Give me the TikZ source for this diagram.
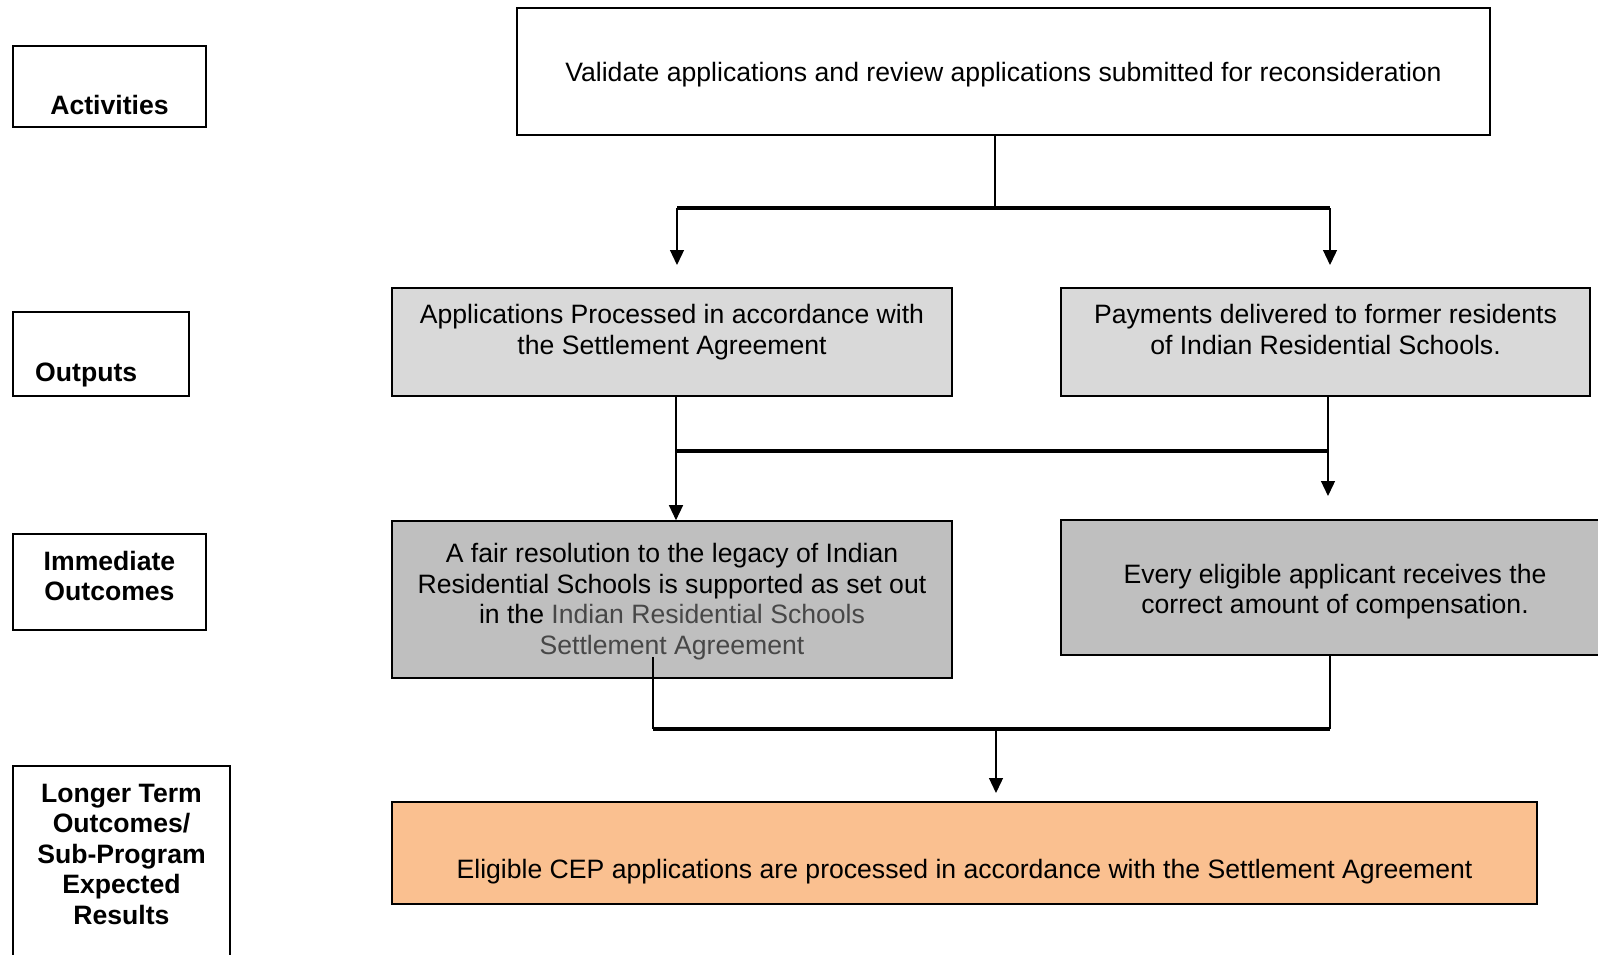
\documentclass[tikz,border=0pt]{standalone}
\usepackage{fontspec}
\setmainfont{Liberation Sans}
\usetikzlibrary{arrows.meta}
\definecolor{outgray}{HTML}{D9D9D9}
\definecolor{immgray}{HTML}{BFBFBF}
\definecolor{orangefill}{HTML}{FAC090}
\definecolor{softtext}{HTML}{474747}
\begin{document}
\begin{tikzpicture}[x=1pt,y=-1pt,
  box/.style={draw=black, line width=1.6pt, inner sep=0pt},
  txt/.style={inner sep=0pt, align=center, anchor=base, font=\fontsize{26.6}{30.6}\selectfont},
  lbl/.style={txt, font=\fontsize{26.6}{30.6}\selectfont\bfseries},
  conn/.style={line width=1.3pt},
  bar/.style={line width=3.2pt},
  arr/.style={line width=1.3pt, -{Triangle[width=14pt,length=15pt]}}]
\clip (0,0) rectangle (1598,955);
\fill[white] (0,0) rectangle (1598,955);
% left labels (anchor=base is the baseline of the last line)
\node[box, minimum width=193pt, minimum height=81pt] (act) at (109.5,86.5) {};
\node[lbl] (actt) at (109.5,114.5) {Activities};
\node[box, minimum width=176pt, minimum height=84pt] (outl) at (101,354) {};
\node[lbl, anchor=base west] (outlt) at (35,381) {Outputs};
\node[box, minimum width=193pt, minimum height=96pt] (imml) at (109.5,582) {};
\node[lbl] (immlt) at (109.5,600.6) {Immediate\\Outcomes};
\node[box, minimum width=217pt, minimum height=209pt] (lng) at (121.5,870.5) {};
\node[lbl] (lngt) at (121.5,924.4) {Longer Term\\Outcomes/\\Sub-Program\\Expected\\Results};
% main boxes
\node[box, fill=white, minimum width=973pt, minimum height=127pt] (top) at (1003.5,71.5) {};
\node[txt] (topt) at (1003.5,81.5) {Validate applications and review applications submitted for reconsideration};
\node[box, fill=outgray, minimum width=560pt, minimum height=108pt] (o1) at (672,342) {};
\node[txt] (o1t) at (672,354.1) {Applications Processed in accordance with\\the Settlement Agreement};
\node[box, fill=outgray, minimum width=529pt, minimum height=108pt] (o2) at (1325.5,342) {};
\node[txt] (o2t) at (1325.5,354.1) {Payments delivered to former residents\\of Indian Residential Schools.};
\node[box, fill=immgray, minimum width=560pt, minimum height=157pt] (i1) at (672,599.5) {};
\node[txt] (i1t) at (672,654.3) {A fair resolution to the legacy of Indian\\Residential Schools is supported as set out\\in the {\color{softtext}Indian Residential Schools}\\{\color{softtext}Settlement Agreement}};
\node[box, fill=immgray, minimum width=548pt, minimum height=135pt] (i2) at (1335,587.5) {};
\node[txt] (i2t) at (1335,613.6) {Every eligible applicant receives the\\correct amount of compensation.};
\node[box, fill=orangefill, minimum width=1145pt, minimum height=102pt] (fin) at (964.5,853) {};
\node[txt] (fint) at (964.5,878) {Eligible CEP applications are processed in accordance with the Settlement Agreement};
% junction coordinates
\coordinate (j1) at (995,208);
\coordinate (j1l) at (677,208);
\coordinate (j1r) at (1330,208);
\coordinate (a1) at (677,265);
\coordinate (a2) at (1330,265);
\coordinate (j2l) at (676,451);
\coordinate (j2r) at (1328,451);
\coordinate (a3) at (1328,496);
\coordinate (s1) at (653,657);
\coordinate (j3l) at (653,729);
\coordinate (j3r) at (1330,729);
\coordinate (j3m) at (996,729);
\coordinate (a4) at (996,793);
% connectors
\draw[conn] (top.south -| j1) -- (j1);
\draw[bar] (j1l) -- (j1r);
\draw[arr] (j1l) -- (a1);
\draw[arr] (j1r) -- (a2);
\draw[conn] (o1.south -| j2l) -- (j2l);
\draw[arr] (j2l) -- (i1.north -| j2l);
\draw[conn] (o2.south -| j2r) -- (j2r);
\draw[arr] (j2r) -- (a3);
\draw[bar] (j2l) -- (j2r);
\draw[conn] (s1) -- (j3l);
\draw[conn] (i2.south -| j3r) -- (j3r);
\draw[bar] (j3l) -- (j3r);
\draw[arr] (j3m) -- (a4);
\end{tikzpicture}
\end{document}
